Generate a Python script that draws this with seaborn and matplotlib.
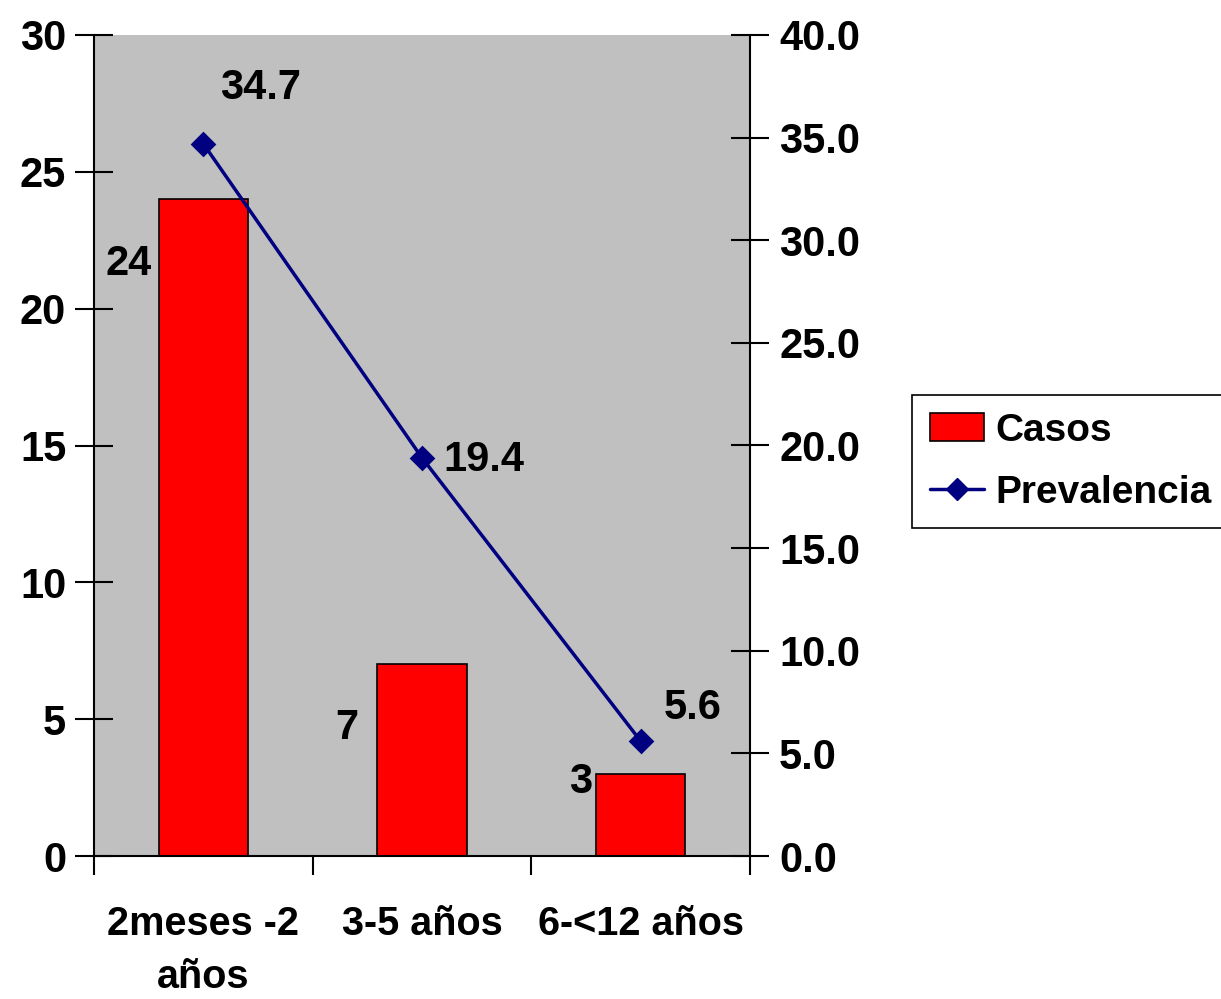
import matplotlib
matplotlib.use("Agg")
import matplotlib.pyplot as plt
from matplotlib.ticker import FixedLocator, FormatStrFormatter
from matplotlib.lines import Line2D
from matplotlib.patches import Patch
import seaborn as sns
import pandas as pd

# Age groups, case counts and prevalence (%)
grupos = ["2meses -2\naños", "3-5 años", "6-<12 años"]
casos = [24, 7, 3]
prevalencia = [34.7, 19.4, 5.6]

# label offsets in pixels from the anchor point
off_casos = [(-7, -65), (-19, -64), (-4, -8)]
off_prev = [(57, 56), (62, -2), (52, 33)]

sns.set_theme(style="white")
plt.rcParams["font.family"] = ["Liberation Sans", "DejaVu Sans"]
plt.rcParams["font.weight"] = "bold"
for key in ("text.color", "axes.labelcolor", "xtick.color", "ytick.color"):
    plt.rcParams[key] = "black"
FS = 30

df = pd.DataFrame({"grupo": grupos, "casos": casos, "prevalencia": prevalencia})

fig = plt.figure(figsize=(12.21, 9.99), dpi=100)
ax = fig.add_axes([94 / 1221, 1 - 856 / 999, (750 - 94) / 1221, (856 - 35) / 999])
ax.set_facecolor("#C0C0C0")

sns.barplot(data=df, x="grupo", y="casos", ax=ax, color="#FF0000",
            saturation=1, width=0.41, edgecolor="black", linewidth=1.2)
ax.set_xlim(-0.5, 2.5)
ax.set_ylim(0, 30)
ax.set_yticks(range(0, 31, 5))
ax.set_xlabel("")
ax.set_ylabel("")

ax2 = ax.twinx()
sns.pointplot(data=df, x="grupo", y="prevalencia", ax=ax2, color="#000080",
              markers="D", markersize=11, linewidth=2.5, linestyles="-")
ax2.set_xlim(-0.5, 2.5)
ax2.set_ylim(0, 40)
ax2.set_yticks(range(0, 41, 5))
ax2.yaxis.set_major_formatter(FormatStrFormatter("%.1f"))
ax2.set_ylabel("")
ax2.set_xlabel("")

# category labels centred, tick marks on category boundaries
ax.set_xticks(range(len(grupos)))
ax.set_xticklabels(grupos, fontsize=28.5, fontweight="bold", linespacing=1.5)
ax.xaxis.set_minor_locator(FixedLocator([-0.5, 0.5, 1.5, 2.5]))
ax.tick_params(axis="x", which="major", length=0, pad=35)
ax.tick_params(axis="x", which="minor", direction="out", length=14, width=1.5,
               color="black", bottom=True)
ax.tick_params(axis="y", direction="inout", length=28, width=1.5, color="black",
               labelsize=FS, pad=6, left=True)
ax2.tick_params(axis="y", direction="inout", length=28, width=1.5, color="black",
                labelsize=FS, pad=7, right=True)
for lab in ax.get_yticklabels() + ax2.get_yticklabels():
    lab.set_fontweight("bold")

for a in (ax, ax2):
    a.spines["top"].set_visible(False)
    for s in ("left", "right", "bottom"):
        a.spines[s].set_color("black")
        a.spines[s].set_linewidth(1.5)
ax2.spines["left"].set_visible(False)
ax2.spines["bottom"].set_visible(False)
ax.spines["right"].set_visible(False)

# value labels
for i, (v, off) in enumerate(zip(casos, off_casos)):
    ax.annotate(f"{v}", xy=(i - 0.205, v), xytext=off, textcoords="offset pixels",
                ha="right", va="center", fontsize=FS, fontweight="bold")
for i, (v, off) in enumerate(zip(prevalencia, off_prev)):
    ax2.annotate(f"{v:.1f}", xy=(i, v), xytext=off, textcoords="offset pixels",
                 ha="center", va="center", fontsize=FS, fontweight="bold")

handles = [Patch(facecolor="#FF0000", edgecolor="black", linewidth=1.2),
           Line2D([], [], color="#000080", lw=2.5, marker="D", markersize=11)]
leg = fig.legend(handles, ["Casos", "Prevalencia"], loc="upper left",
                 bbox_to_anchor=(912 / 1221, 1 - 395 / 999), frameon=True,
                 fancybox=False, edgecolor="black", framealpha=1,
                 prop={"size": 28, "weight": "bold"}, handlelength=1.4,
                 handleheight=0.75, handletextpad=0.3, borderpad=0.45,
                 labelspacing=0.68, borderaxespad=0)
leg.get_frame().set_linewidth(1.2)

fig.savefig("out.png", dpi=100)
